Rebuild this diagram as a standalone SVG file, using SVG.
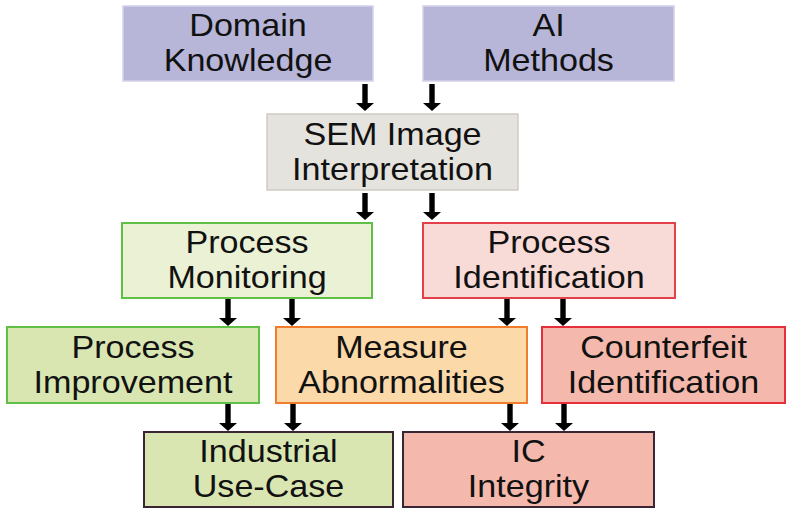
<svg xmlns="http://www.w3.org/2000/svg" xmlns:xlink="http://www.w3.org/1999/xlink" width="786" height="509" viewBox="0 0 786 509">
<style>
text{font-family:"Liberation Sans",Arial,sans-serif;font-size:31px;fill:#111;text-anchor:middle}
.top{fill:#b7b5d8;stroke:#d4d2e8;stroke-width:1.5}
.sem{fill:#e5e3dd;stroke:#cfccc4;stroke-width:1.5}
.gl{fill:#eaf1d5;stroke:#5fbf47;stroke-width:2}
.gd{fill:#d9e6b1;stroke:#5fbf47;stroke-width:2}
.rl{fill:#f8dad7;stroke:#e3404a;stroke-width:2}
.rd{fill:#f4b9ac;stroke:#e5303c;stroke-width:2}
.or{fill:#fbd9a9;stroke:#f07c2e;stroke-width:2}
.gb{fill:#d9e6b1;stroke:#3a2535;stroke-width:2}
.rb{fill:#f4b9ac;stroke:#3a2535;stroke-width:2}
</style>
<defs>
<path id="arr" d="M-2.7,0 H2.7 V19 H9 L0,27 L-9,19 H-2.7 Z" fill="#000"/>
</defs>
<rect width="786" height="509" fill="#fff"/>
<g id="domain"><rect class="top" x="123" y="6" width="250" height="75"/><g transform="translate(248,0) scale(1.1,1)"><text x="0" y="36.5">Domain</text><text x="0" y="71.5">Knowledge</text></g></g>
<g id="ai"><rect class="top" x="423" y="6" width="251" height="75"/><g transform="translate(548.5,0) scale(1.1,1)"><text x="0" y="36.5">AI</text><text x="0" y="71.5">Methods</text></g></g>
<g id="sem"><rect class="sem" x="267" y="114" width="251" height="76"/><g transform="translate(392.5,0) scale(1.1,1)"><text x="0" y="145">SEM Image</text><text x="0" y="180">Interpretation</text></g></g>
<g id="pm"><rect class="gl" x="122" y="223" width="250" height="75"/><g transform="translate(247,0) scale(1.1,1)"><text x="0" y="253.5">Process</text><text x="0" y="288.5">Monitoring</text></g></g>
<g id="pi"><rect class="rl" x="423" y="223" width="252" height="75"/><g transform="translate(549,0) scale(1.1,1)"><text x="0" y="253.5">Process</text><text x="0" y="288.5">Identification</text></g></g>
<g id="pimp"><rect class="gd" x="7" y="327" width="252" height="76"/><g transform="translate(133,0) scale(1.1,1)"><text x="0" y="358">Process</text><text x="0" y="393">Improvement</text></g></g>
<g id="ma"><rect class="or" x="276" y="327" width="251" height="76"/><g transform="translate(401.5,0) scale(1.1,1)"><text x="0" y="358">Measure</text><text x="0" y="393">Abnormalities</text></g></g>
<g id="ci"><rect class="rd" x="542" y="327" width="243" height="76"/><g transform="translate(663.5,0) scale(1.1,1)"><text x="0" y="358">Counterfeit</text><text x="0" y="393">Identification</text></g></g>
<g id="iuc"><rect class="gb" x="144" y="432" width="249" height="75"/><g transform="translate(268.5,0) scale(1.1,1)"><text x="0" y="462.5">Industrial</text><text x="0" y="497.5">Use-Case</text></g></g>
<g id="ic"><rect class="rb" x="403" y="432" width="251" height="75"/><g transform="translate(528.5,0) scale(1.1,1)"><text x="0" y="462.5">IC</text><text x="0" y="497.5">Integrity</text></g></g>
<g id="connectors">
<use xlink:href="#arr" x="365" y="84"/>
<use xlink:href="#arr" x="432" y="84"/>
<use xlink:href="#arr" x="365" y="193"/>
<use xlink:href="#arr" x="432" y="193"/>
<use xlink:href="#arr" x="228" y="299"/>
<use xlink:href="#arr" x="292" y="299"/>
<use xlink:href="#arr" x="507" y="299"/>
<use xlink:href="#arr" x="563" y="299"/>
<use xlink:href="#arr" x="228" y="404"/>
<use xlink:href="#arr" x="293" y="404"/>
<use xlink:href="#arr" x="510" y="404"/>
<use xlink:href="#arr" x="564" y="404"/>
</g>
</svg>
